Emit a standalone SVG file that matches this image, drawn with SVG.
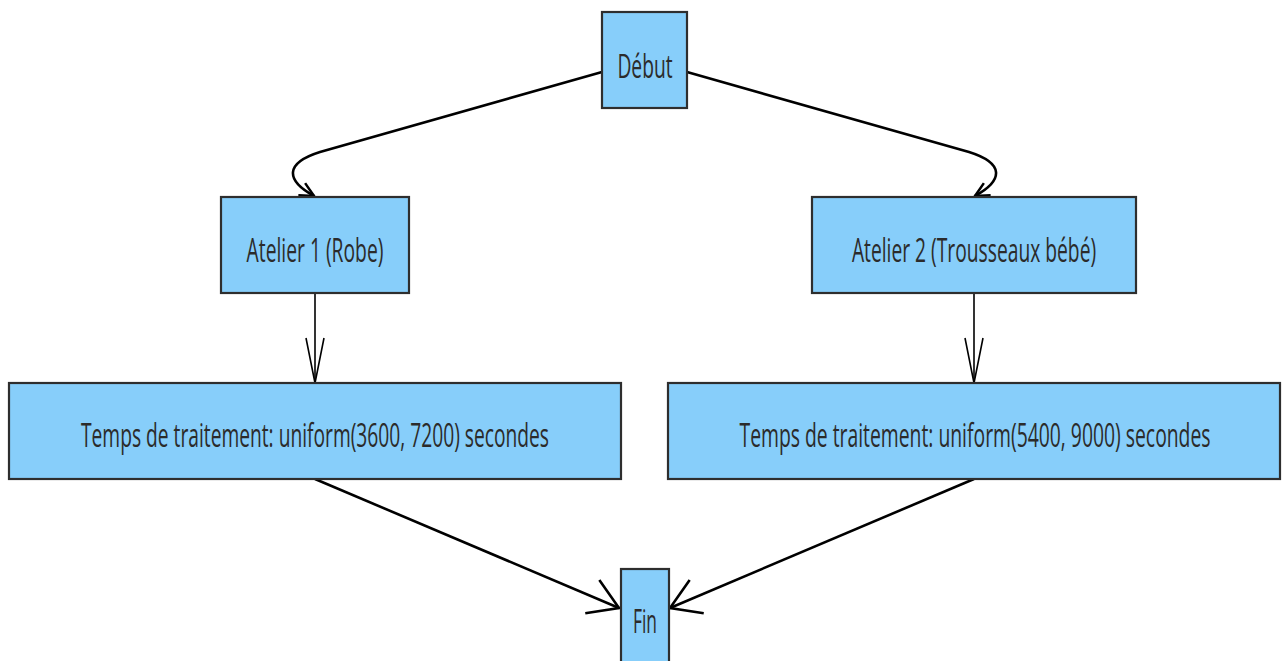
<svg xmlns="http://www.w3.org/2000/svg" width="1284" height="661" viewBox="0 0 1284 661">
<defs>
<style>
.box{fill:#87CEFA;stroke:#2e2e2e;stroke-width:2.2}
.lbl{font-family:"Open Sans","Noto Sans","DejaVu Sans",sans-serif;font-size:33px;fill:#2b2b2b;text-anchor:middle}
.edge{fill:none;stroke:#000;stroke-width:2.6}
.edgeThin{fill:none;stroke:#000;stroke-width:1.6}
</style>
<marker id="arrS" markerUnits="userSpaceOnUse" viewBox="0 0 16 16" markerWidth="16" markerHeight="16" refX="15" refY="8" orient="auto" overflow="visible">
<path d="M1,1 L15,8 L1,15" fill="none" stroke="#000" stroke-width="2.5"/>
</marker>
<marker id="arrV" markerUnits="userSpaceOnUse" viewBox="0 0 46 20" markerWidth="46" markerHeight="20" refX="45" refY="10" orient="auto" overflow="visible">
<path d="M0,1 L45,10 L0,19" fill="none" stroke="#000" stroke-width="1.6"/>
</marker>
<marker id="arrB" markerUnits="userSpaceOnUse" viewBox="0 0 30 38" markerWidth="30" markerHeight="38" refX="29" refY="19" orient="auto" overflow="visible">
<path d="M0,1 L29,19 L0,37" fill="none" stroke="#000" stroke-width="2.6"/>
</marker>
</defs>
<rect width="1284" height="661" fill="#fff"/>
<g id="connectors">
<path class="edge" d="M602,72 L320,152 C285,163 285,180 314,196" marker-end="url(#arrS)"/>
<path class="edge" d="M687,72 L969,152 C1004,163 1004,180 975,196" marker-end="url(#arrS)"/>
<path class="edgeThin" d="M315,293 L315,383" marker-end="url(#arrV)"/>
<path class="edgeThin" d="M974,293 L974,383" marker-end="url(#arrV)"/>
<path class="edge" d="M315,479 L619,608" marker-end="url(#arrB)"/>
<path class="edge" d="M974,479 L670,608" marker-end="url(#arrB)"/>
</g>
<g id="debut">
<rect class="box" x="602" y="12" width="85" height="96"/>
<text class="lbl" transform="translate(645,78) scale(0.6,1)" textLength="92" lengthAdjust="spacingAndGlyphs">Début</text>
</g>
<g id="atelier1">
<rect class="box" x="221" y="197" width="188" height="96"/>
<text class="lbl" transform="translate(315,262) scale(0.6,1)" textLength="228" lengthAdjust="spacingAndGlyphs">Atelier 1 (Robe)</text>
</g>
<g id="atelier2">
<rect class="box" x="812" y="197" width="324" height="96"/>
<text class="lbl" transform="translate(974,262) scale(0.6,1)" textLength="407" lengthAdjust="spacingAndGlyphs">Atelier 2 (Trousseaux bébé)</text>
</g>
<g id="temps1">
<rect class="box" x="9" y="383" width="612" height="96"/>
<text class="lbl" transform="translate(315,447) scale(0.6,1)" textLength="780" lengthAdjust="spacingAndGlyphs">Temps de traitement: uniform(3600, 7200) secondes</text>
</g>
<g id="temps2">
<rect class="box" x="668" y="383" width="612" height="96"/>
<text class="lbl" transform="translate(975,447) scale(0.6,1)" textLength="785" lengthAdjust="spacingAndGlyphs">Temps de traitement: uniform(5400, 9000) secondes</text>
</g>
<g id="fin">
<rect class="box" x="621" y="569" width="48" height="100"/>
<text class="lbl" transform="translate(645,633) scale(0.6,1)" textLength="40" lengthAdjust="spacingAndGlyphs">Fin</text>
</g>
</svg>
